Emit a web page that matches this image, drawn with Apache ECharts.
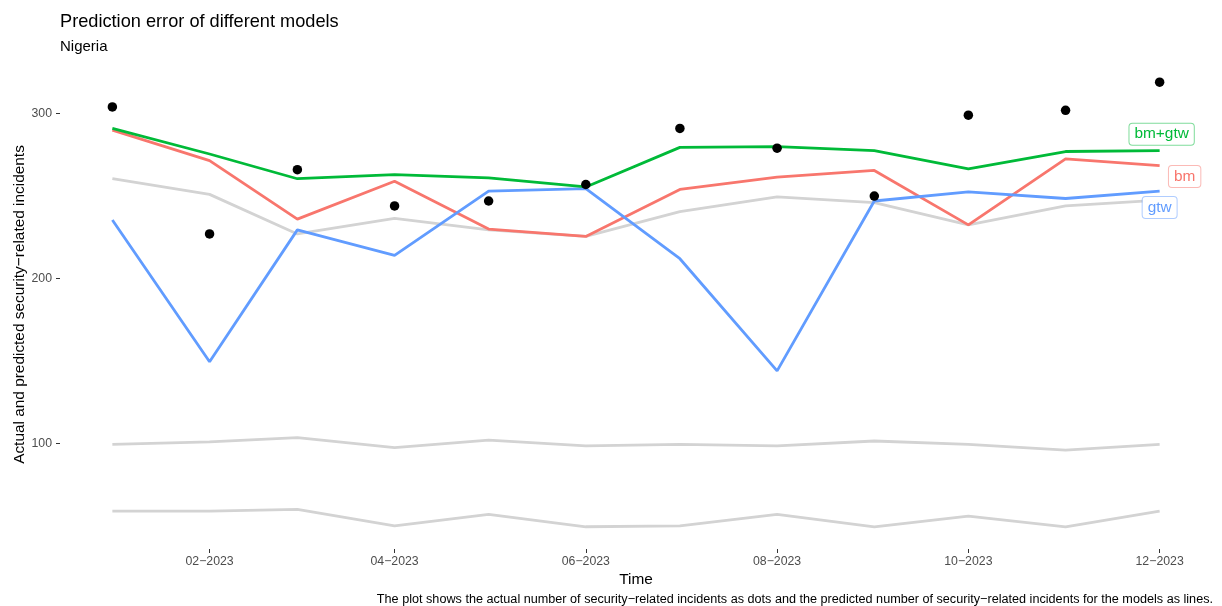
<!DOCTYPE html>
<html>
<head>
<meta charset="utf-8">
<script src="https://cdn.jsdelivr.net/npm/echarts@6/dist/echarts.min.js"></script>
<style>
  html, body { margin: 0; padding: 0; background: #fff; }
  #chart { width: 1222px; height: 606px; }
</style>
</head>
<body>
<div id="chart"></div>
<script>
// monthly observations, 2023
const months = ['2023-01', '2023-02', '2023-03', '2023-04', '2023-05', '2023-06',
  '2023-07', '2023-08', '2023-09', '2023-10', '2023-11', '2023-12'];
const tickMonths = ['2023-02', '2023-04', '2023-06', '2023-08', '2023-10', '2023-12'];
const yTicks = [100, 200, 300];

const actual = [304, 227, 266, 244, 247, 257, 291, 279, 250, 299, 302, 319];
const bmGtw = [291, 275.5, 260.5, 263, 261, 255.5, 279.5, 280, 277.5, 266.5, 277, 277.5];
const bm = [290, 271.5, 236, 259, 230, 225.5, 254, 261.5, 265.5, 232.5, 272.5, 268.5];
const gtw = [235.5, 149.5, 229.5, 214, 253, 254.5, 212, 144, 247, 252.5, 248.5, 253];
const otherHigh = [260.5, 251, 227, 236.5, 229.5, 225.5, 240.5, 249.5, 246, 232.5, 244, 247.5];
const otherMid = [99.5, 101, 103.5, 97.5, 102, 98.5, 99.5, 98.5, 101.5, 99.5, 96, 99.5];
const otherLow = [59, 59, 60, 50, 57, 49.5, 50, 57, 49.5, 56, 49.5, 59];

const FONT = '"Liberation Sans", Arial, sans-serif';
const toTime = m => new Date(m + '-01T00:00:00Z').getTime();
const times = months.map(toTime);
const pairs = vals => vals.map((v, i) => [times[i], v]);

// ggplot style 5% expansion
const tMin = times[0], tMax = times[times.length - 1];
const xPad = (tMax - tMin) * 0.05;
const allVals = [].concat(actual, bmGtw, bm, gtw, otherHigh, otherMid, otherLow);
const lo = Math.min(...allVals), hi = Math.max(...allVals);
const yPad = (hi - lo) * 0.05;

const fmtMonth = v => {
  const d = new Date(v);
  const mm = String(d.getUTCMonth() + 1).padStart(2, '0');
  return mm + '\u2212' + d.getUTCFullYear();
};

const greyLine = (vals) => ({
  type: 'line',
  data: pairs(vals),
  showSymbol: false,
  silent: true,
  lineStyle: { color: '#d3d3d3', width: 2.8 },
  z: 1,
});

// coloured model line with a boxed label near its last point
const modelLine = (name, vals, color, borderColor, offset) => {
  const data = pairs(vals);
  return {
    type: 'line',
    name: name,
    data: data,
    showSymbol: false,
    lineStyle: { color: color, width: 2.8 },
    z: 2,
    markPoint: {
      symbol: 'circle',
      symbolSize: 1,
      itemStyle: { color: 'rgba(0,0,0,0)' },
      silent: true,
      data: [{
        coord: data[data.length - 1],
        label: {
          show: true,
          formatter: name,
          position: 'inside',
          offset: offset,
          color: color,
          fontFamily: FONT,
          fontSize: 15.4,
          lineHeight: 17,
          backgroundColor: '#fff',
          borderColor: borderColor,
          borderWidth: 1,
          borderRadius: 3,
          padding: [2, 5, 2, 5],
        },
      }],
    },
  };
};

const chart = echarts.init(document.getElementById('chart'));
chart.setOption({
  animation: false,
  title: [
    {
      text: 'Prediction error of different models',
      left: 55, top: 8,
      textStyle: { fontFamily: FONT, fontSize: 18.2, fontWeight: 'normal', color: '#000' },
    },
    {
      text: 'Nigeria',
      left: 55, top: 34,
      textStyle: { fontFamily: FONT, fontSize: 15, fontWeight: 'normal', color: '#000' },
    },
    {
      text: 'The plot shows the actual number of security\u2212related incidents as dots and the predicted number of security\u2212related incidents for the models as lines.',
      right: 4, top: 588,
      textStyle: { fontFamily: FONT, fontSize: 12.65, fontWeight: 'normal', color: '#000' },
    },
  ],
  grid: { left: 60, right: 10, top: 60, bottom: 57, outerBoundsMode: 'none', containLabel: false },
  xAxis: {
    type: 'value',
    min: tMin - xPad,
    max: tMax + xPad,
    name: 'Time',
    nameLocation: 'middle',
    nameGap: 23,
    nameMoveOverlap: false,
    nameTextStyle: { fontFamily: FONT, fontSize: 15.4, color: '#000', verticalAlign: 'top' },
    splitLine: { show: false },
    axisLine: { show: false },
    axisTick: { show: true, length: 4, lineStyle: { color: '#333' }, customValues: tickMonths.map(toTime) },
    axisLabel: {
      customValues: tickMonths.map(toTime),
      formatter: fmtMonth,
      fontFamily: FONT, fontSize: 12.3, color: '#4d4d4d', margin: 7,
    },
  },
  yAxis: {
    type: 'value',
    min: lo - yPad,
    max: hi + yPad,
    name: 'Actual and predicted security\u2212related incidents',
    nameLocation: 'middle',
    nameGap: 33,
    nameMoveOverlap: false,
    nameTextStyle: { fontFamily: FONT, fontSize: 15.4, color: '#000' },
    splitLine: { show: false },
    axisLine: { show: false },
    axisTick: { show: true, length: 4, lineStyle: { color: '#333' }, customValues: yTicks },
    axisLabel: {
      customValues: yTicks,
      fontFamily: FONT, fontSize: 12.3, color: '#4d4d4d', margin: 8,
    },
  },
  series: [
    greyLine(otherHigh),
    greyLine(otherMid),
    greyLine(otherLow),
    modelLine('bm', bm, '#F8766D', 'rgba(248,118,109,0.5)', [25, 11]),
    modelLine('gtw', gtw, '#619CFF', 'rgba(97,156,255,0.5)', [0, 16.5]),
    modelLine('bm+gtw', bmGtw, '#00BA38', 'rgba(0,186,56,0.5)', [2, -16.5]),
    {
      type: 'scatter',
      name: 'actual',
      data: pairs(actual),
      symbolSize: 9.5,
      itemStyle: { color: '#000', opacity: 1 },
      z: 3,
    },
  ],
});
</script>
</body>
</html>
